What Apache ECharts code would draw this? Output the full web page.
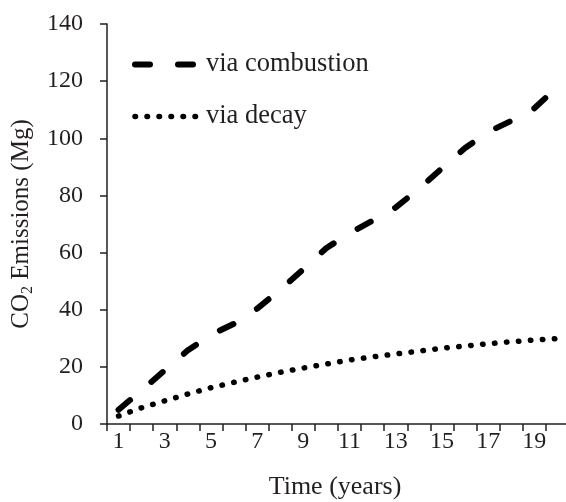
<!DOCTYPE html>
<html>
<head>
<meta charset="utf-8">
<script src="https://cdn.jsdelivr.net/npm/echarts@6/dist/echarts.min.js"></script>
<style>
html,body{margin:0;padding:0;background:#fff;}
#c{width:566px;height:502px;}
</style>
</head>
<body>
<div id="c"></div>
<script>
var years = ['1','2','3','4','5','6','7','8','9','10','11','12','13','14','15','16','17','18','19','20'];
var combustion = [5, 11.8, 18.8, 25.8, 31.2, 35.1, 40.4, 47, 54.2, 61.6, 66.8, 71.2, 75.8, 82.3, 89.5, 96.6, 102.2, 106.1, 110.5, 118];
var decay = [2.8, 5.7, 8.1, 10.5, 12.7, 14.6, 16.4, 18.1, 19.6, 21.0, 22.4, 23.5, 24.5, 25.5, 26.5, 27.3, 28.1, 28.8, 29.4, 29.9];
var yTicks = {min: 0, max: 140, interval: 20};

var FONT = 'Liberation Serif, Times New Roman, serif';
var INK = '#231f20';
var chart = echarts.init(document.getElementById('c'), null, {renderer: 'canvas'});
chart.setOption({
  animation: false,
  backgroundColor: '#ffffff',
  grid: {left: 107, right: -3, top: 24, bottom: 78, containLabel: false, outerBoundsMode: 'none'},
  legend: {
    orient: 'vertical',
    left: 127,
    top: 46,
    itemWidth: 63,
    itemHeight: 24,
    itemGap: 25,
    itemStyle: {opacity: 0},
    data: [
      {name: 'via combustion', lineStyle: {width: 6}},
      {name: 'via decay', lineStyle: {width: 5.5}}
    ],
    formatter: function (n) { return '{t|' + n + '}'; },
    textStyle: {
      fontFamily: FONT, fontSize: 26.5, color: INK,
      rich: {t: {fontFamily: FONT, fontSize: 26.5, color: INK, padding: [0, 0, 0, 3]}}
    }
  },
  xAxis: {
    type: 'category',
    data: years,
    boundaryGap: true,
    name: 'Time (years)',
    nameLocation: 'middle',
    nameGap: 50,
    nameTextStyle: {fontFamily: FONT, fontSize: 26, color: INK, padding: [0, 6, 0, 0]},
    axisLine: {lineStyle: {color: INK, width: 1.5}},
    axisTick: {show: true, interval: 0, length: 7, lineStyle: {color: INK, width: 1.5}},
    axisLabel: {interval: 1, margin: 6, fontFamily: FONT, fontSize: 24, color: INK},
    splitLine: {show: false}
  },
  yAxis: {
    type: 'value',
    min: yTicks.min, max: yTicks.max, interval: yTicks.interval,
    name: '{n|CO}{s|2}{n| Emissions (Mg)}',
    nameLocation: 'middle',
    nameGap: 66,
    nameRotate: 90,
    nameTextStyle: {
      fontFamily: FONT, fontSize: 25, color: INK,
      rich: {
        n: {fontFamily: FONT, fontSize: 25, color: INK, lineHeight: 30, verticalAlign: 'bottom'},
        s: {fontFamily: FONT, fontSize: 16, color: INK, lineHeight: 30, verticalAlign: 'bottom', padding: [0, 0, -2, 0]}
      }
    },
    axisLine: {show: true, lineStyle: {color: INK, width: 1.5}},
    axisTick: {show: true, length: 7, lineStyle: {color: INK, width: 1.5}},
    axisLabel: {margin: 24, fontFamily: FONT, fontSize: 24, color: INK},
    splitLine: {show: false}
  },
  series: [
    {
      name: 'via combustion',
      type: 'line',
      data: combustion,
      symbol: 'none',
      smooth: false,
      lineStyle: {color: '#000', width: 6, type: [15, 28], cap: 'round', join: 'round'},
      itemStyle: {color: '#000'}
    },
    {
      name: 'via decay',
      type: 'line',
      data: decay,
      symbol: 'none',
      smooth: false,
      lineStyle: {color: '#000', width: 5.5, type: [0.5, 11.5], cap: 'round', join: 'round'},
      itemStyle: {color: '#000'}
    }
  ]
});
</script>
</body>
</html>
